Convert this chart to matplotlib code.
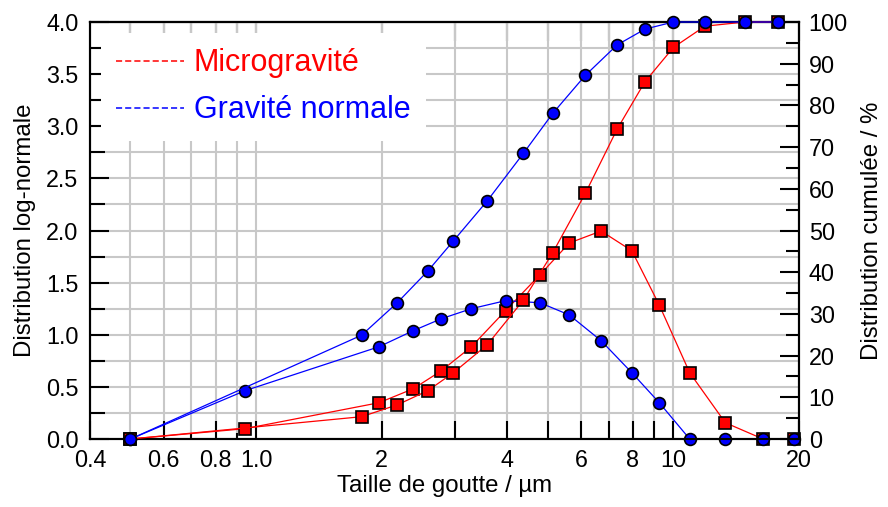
import matplotlib
matplotlib.use("Agg")
import matplotlib.pyplot as plt
from matplotlib.lines import Line2D
from matplotlib.ticker import FixedLocator, FixedFormatter, MultipleLocator, NullFormatter, FormatStrFormatter

plt.rcParams["font.family"] = ["Liberation Sans", "DejaVu Sans"]

RED, BLUE = "#ff0000", "#0000ff"

# droplet sizes (µm)
size_dist = [0.5, 0.94, 1.97, 2.38, 2.78, 3.28, 3.96, 4.79, 5.63, 6.71, 7.95, 9.25, 10.94, 13.32, 16.4, 19.4]
size_cum = [0.5, 1.79, 2.18, 2.58, 2.97, 3.58, 4.37, 5.14, 6.15, 7.33, 8.55, 10.0, 11.9, 14.85, 17.84]

# log-normal distribution (left axis)
micro_dist = [0.0, 0.099, 0.348, 0.482, 0.655, 0.885, 1.231, 1.576, 1.88, 1.995, 1.806, 1.285, 0.636, 0.156, 0.0, 0.0]
normal_dist = [0.0, 0.463, 0.885, 1.039, 1.154, 1.25, 1.327, 1.307, 1.19, 0.943, 0.636, 0.348, 0.0, 0.0, 0.0, 0.0]

# cumulative distribution in % (right axis)
micro_cum = [0.0, 5.35, 8.2, 11.6, 15.9, 22.6, 33.3, 44.7, 58.9, 74.3, 85.7, 93.9, 99.0, 100.0, 100.0]
normal_cum = [0.0, 24.9, 32.7, 40.3, 47.5, 57.1, 68.5, 78.1, 87.2, 94.5, 98.3, 100.0, 100.0, 100.0, 100.0]

x_ticks = [0.4, 0.6, 0.8, 1.0, 2, 3, 4, 5, 6, 7, 8, 9, 10, 20]
x_labels = ["0.4", "0.6", "0.8", "1.0", "2", "", "4", "", "6", "", "8", "", "10", "20"]
x_minor = [0.5, 0.7, 0.9]
top_major = [2, 3, 4, 5, 6, 7, 8, 9, 10, 20]
top_minor = [0.5, 0.6, 0.7, 0.8, 0.9, 1.0]

fig = plt.figure(figsize=(8.88, 5.07), dpi=100)
ax = fig.add_axes([0.1014, 0.1341, 0.7984, 0.8225])
ax2 = ax.twinx()

mk = dict(lw=0.9, ms=8.5, mec="black", mew=1.2, clip_on=False)
ax.plot(size_dist, micro_dist, color=RED, marker="s", mfc=RED, zorder=3, **mk)
ax.plot(size_dist, normal_dist, color=BLUE, marker="o", mfc=BLUE, zorder=4, **mk)
ax2.plot(size_cum, micro_cum, color=RED, marker="s", mfc=RED, zorder=3, **mk)
ax2.plot(size_cum, normal_cum, color=BLUE, marker="o", mfc=BLUE, zorder=4, **mk)

ax.set_xscale("log")
ax.set_xlim(0.4, 20)
ax.set_ylim(0, 4)
ax2.set_ylim(0, 100)

ax.xaxis.set_major_locator(FixedLocator(x_ticks))
ax.xaxis.set_major_formatter(FixedFormatter(x_labels))
ax.xaxis.set_minor_locator(FixedLocator(x_minor))
ax.xaxis.set_minor_formatter(NullFormatter())
ax.yaxis.set_major_locator(MultipleLocator(0.5))
ax.yaxis.set_minor_locator(MultipleLocator(0.25))
ax.yaxis.set_major_formatter(FormatStrFormatter("%.1f"))
ax2.yaxis.set_major_locator(MultipleLocator(10))
ax2.yaxis.set_minor_locator(MultipleLocator(5))

ax.tick_params(axis="x", which="major", direction="in", length=13, width=1.5, pad=7.5, labelsize=16.8)
ax.tick_params(axis="x", which="minor", direction="in", length=4.5, width=1.5)
ax.tick_params(axis="y", which="major", direction="in", length=13.7, width=1.5, pad=8.4, labelsize=16.8)
ax.tick_params(axis="y", which="minor", direction="in", length=10.8, width=1.5)
ax2.tick_params(axis="y", which="major", direction="in", length=13.7, width=1.5, pad=7, labelsize=16.8)
ax2.tick_params(axis="y", which="minor", direction="in", length=9.4, width=1.5)

sec = ax.secondary_xaxis("top")
sec.xaxis.set_major_locator(FixedLocator(top_major))
sec.xaxis.set_minor_locator(FixedLocator(top_minor))
sec.xaxis.set_major_formatter(NullFormatter())
sec.xaxis.set_minor_formatter(NullFormatter())
sec.tick_params(which="major", direction="in", length=13.7, width=1.5)
sec.tick_params(which="minor", direction="in", length=7.9, width=1.5)

for a in (ax, ax2, sec):
    for s in a.spines.values():
        s.set_linewidth(1.5)

ax.grid(which="both", color="#c8c8c8", lw=1.5)
ax.set_axisbelow(True)

ax.set_xlabel("Taille de goutte / µm", fontsize=17.3)
ax.set_ylabel("Distribution log-normale", fontsize=17.3)
ax2.set_ylabel("Distribution cumulée / %", fontsize=17.3)
ax.xaxis.set_label_coords(0.5, -0.087)
ax.yaxis.set_label_coords(-0.076, 0.5)
ax2.yaxis.set_label_coords(1.088, 0.5)

handles = [Line2D([], [], color=RED, lw=1.1, dashes=(4, 2)),
           Line2D([], [], color=BLUE, lw=1.1, dashes=(4, 2))]
ax2.legend(handles, ["Microgravité", "Gravité normale"], loc="upper left",
           bbox_to_anchor=(0, 1), fontsize=22,
           handlelength=2.2, handletextpad=0.33, labelspacing=0.56, borderpad=0.5,
           borderaxespad=0.36, frameon=True, fancybox=False, framealpha=1,
           edgecolor="none", facecolor="white", labelcolor="linecolor")

fig.savefig("out.png", dpi=100)
